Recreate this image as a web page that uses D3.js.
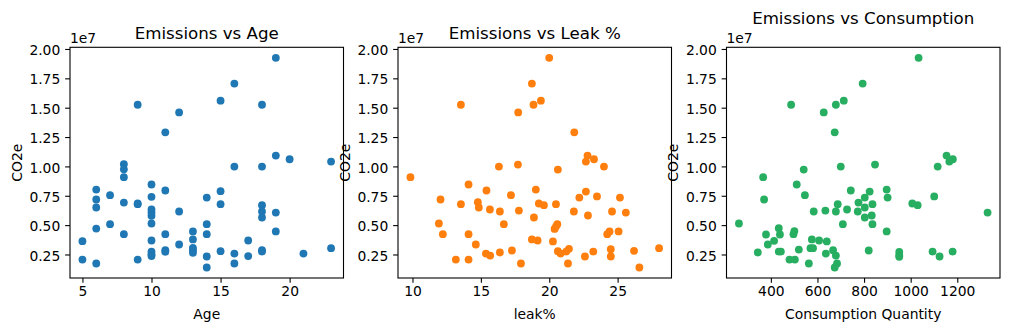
<!DOCTYPE html>
<html>
<head>
<meta charset="utf-8">
<script src="https://cdn.jsdelivr.net/npm/d3@7"></script>
<style>
  html, body { margin: 0; padding: 0; background: #fff; }
  svg { display: block; }
</style>
</head>
<body>
<script>
// Emissions (millions of t CO2e) against three plant attributes.
const age = [19,16,15,9,18,12,11,19,20,23,8,16,18,8,8,10,6,11,15,7,10,14,6,8,9,9,15,18,6,10,12,18,10,19,10,18,10,7,14,6,13,19,8,11,14,13,10,17,5,12,13,23,11,13,18,15,10,11,18,13,16,21,10,10,17,14,5,9,6,16,14];
const ageCO2e = [19.25,17.05,15.6,15.25,15.25,14.6,12.9,10.92,10.61,10.41,10.19,9.99,9.99,9.75,9.08,8.46,8.03,7.95,7.89,7.55,7.41,7.35,7.18,6.92,6.78,6.84,6.78,6.70,6.50,6.33,6.16,6.16,6.07,6.07,5.79,5.65,5.14,5.08,5.08,4.71,4.46,4.46,4.23,4.23,4.23,3.78,3.69,3.69,3.63,3.35,3.07,3.04,2.87,2.87,2.87,2.78,2.75,2.73,2.75,2.64,2.58,2.58,2.53,2.36,2.36,2.33,2.07,2.07,1.73,1.73,1.39];

const leak = [20.0,18.73,19.39,13.54,18.85,17.73,21.83,22.8,23.27,22.68,17.71,16.32,24.0,20.63,9.85,14.1,19.02,15.41,22.68,17.2,23.49,22.2,25.17,12.05,14.78,19.24,13.54,20.49,19.61,14.85,15.66,17.78,16.39,21.8,24.59,25.6,22.83,18.88,11.93,16.68,20.59,20.49,20.39,24.41,25.07,12.22,14.1,24.24,18.73,19.15,20.27,14.63,28.03,21.44,24.5,17.27,26.2,20.63,21.24,23.22,16.39,15.37,20.83,15.68,22.61,24.5,13.17,14.1,17.93,21.37,26.59];
const leakCO2e = [19.25,17.05,15.6,15.25,15.25,14.6,12.9,10.92,10.61,10.41,10.16,9.99,9.99,9.73,9.08,8.46,8.03,7.95,7.86,7.55,7.44,7.35,7.35,7.18,6.95,6.84,6.78,6.78,6.70,6.50,6.33,6.24,6.16,6.16,6.16,6.07,5.82,5.65,5.14,5.08,5.08,4.88,4.68,4.46,4.46,4.23,4.23,4.23,3.78,3.69,3.61,3.35,3.04,2.98,2.95,2.84,2.81,2.78,2.75,2.75,2.67,2.58,2.58,2.41,2.33,2.33,2.07,2.07,1.73,1.73,1.39];

const consumption = [1034,794,713,487,679,627,674,1154,1181,1166,847,700,1116,541,367,511,897,743,824,546,1101,901,803,371,776,1007,687,836,1030,803,727,634,679,773,584,1330,833,803,263,709,836,434,501,897,497,379,439,576,607,414,640,387,570,581,520,667,820,434,443,1094,1180,951,344,636,951,679,1124,951,480,503,563,684,674];
const consumptionCO2e = [19.25,17.05,15.6,15.25,15.25,14.6,12.9,10.92,10.61,10.41,10.16,9.99,9.99,9.73,9.08,8.46,8.03,7.95,7.86,7.55,7.44,7.35,7.35,7.18,6.92,6.84,6.78,6.78,6.70,6.50,6.33,6.24,6.16,6.16,6.16,6.07,5.82,5.65,5.14,5.08,5.08,4.74,4.49,4.46,4.23,4.20,4.20,3.78,3.69,3.66,3.61,3.35,3.04,3.04,2.92,2.87,2.84,2.75,2.75,2.75,2.75,2.73,2.67,2.58,2.44,2.41,2.33,2.30,2.07,2.07,1.73,1.73,1.39];

// Tick values
const co2Ticks = [2.5e6, 5e6, 7.5e6, 1e7, 1.25e7, 1.5e7, 1.75e7, 2e7];
const ageTicks = [5, 10, 15, 20];
const leakTicks = [10, 15, 20, 25];
const consumptionTicks = [400, 600, 800, 1000, 1200];

const titles = ["Emissions vs Age", "Emissions vs Leak %", "Emissions vs Consumption"];
const xLabels = ["Age", "leak%", "Consumption Quantity"];
const yLabel = "CO2e";
const offsetLabel = "1e7";

const W = 1010, H = 331;
const FONT = "'DejaVu Sans', 'Liberation Sans', sans-serif";
const FS = 13.89, TITLE_FS = 16.67;
const TICK = 4.86, PAD = 4.86, LW = 1.1;
const plotTop = 47.3, plotBottom = 278, plotW = 273.5;

const panels = [
  { left: 70,    xs: age,         ys: ageCO2e,         xTicks: ageTicks,         color: "#1f77b4", titleY: 39 },
  { left: 398,   xs: leak,        ys: leakCO2e,        xTicks: leakTicks,        color: "#ff7f0e", titleY: 39 },
  { left: 726.5, xs: consumption, ys: consumptionCO2e, xTicks: consumptionTicks, color: "#27ae60", titleY: 23.5 }
];

const svg = d3.select("body").append("svg")
  .attr("width", W).attr("height", H)
  .style("font-family", FONT);

// 5% margin on each side of the data range
function padded(values) {
  const [lo, hi] = d3.extent(values);
  const r = hi - lo;
  return [lo - 0.05 * r, hi + 0.05 * r];
}

panels.forEach((p, i) => {
  const pts = p.xs.map((x, j) => ({ x, y: p.ys[j] * 1e6 }));
  const x = d3.scaleLinear().domain(padded(p.xs)).range([p.left, p.left + plotW]);
  const y = d3.scaleLinear().domain(padded(pts.map(d => d.y))).range([plotBottom, plotTop]);

  const g = svg.append("g");

  // points
  g.append("g").selectAll("circle").data(pts).join("circle")
    .attr("cx", d => x(d.x))
    .attr("cy", d => y(d.y))
    .attr("r", 3.9)
    .attr("fill", p.color);

  // y axis
  const yAxis = g.append("g")
    .attr("transform", `translate(${p.left},0)`)
    .call(d3.axisLeft(y).tickValues(co2Ticks).tickSize(TICK).tickPadding(PAD).tickSizeOuter(0)
      .tickFormat(v => (v / 1e7).toFixed(2)));
  yAxis.select(".domain").remove();
  yAxis.selectAll(".tick line").attr("stroke", "#000").attr("stroke-width", LW);
  yAxis.selectAll(".tick text")
    .attr("fill", "#000").attr("dy", null).attr("y", 5.6)
    .style("font-size", FS + "px").style("font-family", FONT);

  // x axis
  const xAxis = g.append("g")
    .attr("transform", `translate(0,${plotBottom})`)
    .call(d3.axisBottom(x).tickValues(p.xTicks).tickSize(TICK).tickPadding(PAD).tickSizeOuter(0)
      .tickFormat(d3.format("d")));
  xAxis.select(".domain").remove();
  xAxis.selectAll(".tick line").attr("stroke", "#000").attr("stroke-width", LW);
  xAxis.selectAll(".tick text")
    .attr("fill", "#000").attr("dy", null).attr("y", 17.5)
    .style("font-size", FS + "px").style("font-family", FONT);

  // frame
  g.append("rect")
    .attr("x", p.left).attr("y", plotTop)
    .attr("width", plotW).attr("height", plotBottom - plotTop)
    .attr("fill", "none").attr("stroke", "#000").attr("stroke-width", LW);

  // title
  g.append("text")
    .attr("x", p.left + plotW / 2).attr("y", p.titleY)
    .attr("text-anchor", "middle")
    .style("font-size", TITLE_FS + "px")
    .attr("fill", "#000")
    .text(titles[i]);

  // y-axis offset
  g.append("text")
    .attr("x", p.left).attr("y", 43.3)
    .style("font-size", FS + "px")
    .attr("fill", "#000")
    .text(offsetLabel);

  // axis labels
  g.append("text")
    .attr("x", p.left + plotW / 2).attr("y", 318.5)
    .attr("text-anchor", "middle")
    .style("font-size", FS + "px")
    .attr("fill", "#000")
    .text(xLabels[i]);

  g.append("text")
    .attr("transform", `translate(${p.left - 48.3},${(plotTop + plotBottom) / 2}) rotate(-90)`)
    .attr("text-anchor", "middle")
    .style("font-size", FS + "px")
    .attr("fill", "#000")
    .text(yLabel);
});
</script>
</body>
</html>
